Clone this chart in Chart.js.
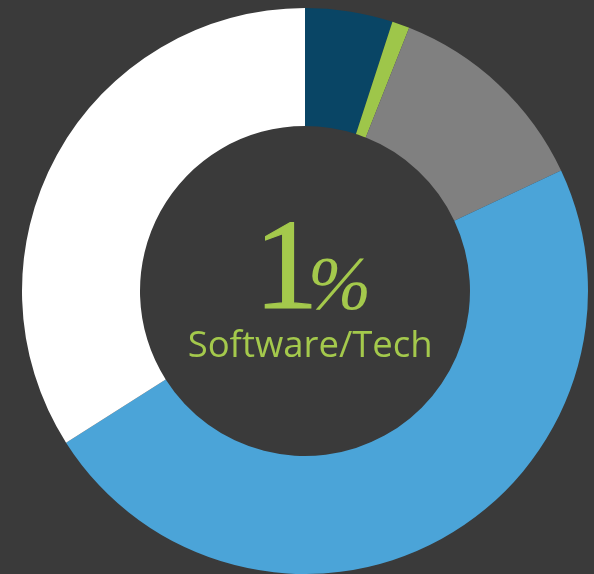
<!DOCTYPE html>
<html>
<head>
<meta charset="utf-8">
<script src="https://cdn.jsdelivr.net/npm/chart.js@4"></script>
<style>
  html, body { margin: 0; padding: 0; background: #3a3a3a; }
  #wrap { width: 594px; height: 574px; position: relative; }
</style>
</head>
<body>
<div id="wrap"><canvas id="c" width="594" height="574"></canvas></div>
<script>
const categories = ['Category A', 'Software/Tech', 'Category C', 'Category D', 'Category E'];
const values = [5, 1, 12, 48, 34];
const colors = ['#094565', '#9ec64a', '#808080', '#4ba4d8', '#ffffff'];
const centerValue = '1';
const centerSymbol = '%';
const centerLabel = 'Software/Tech';
const textColor = '#a4c94c';

const centerText = {
  id: 'centerText',
  afterDraw(chart) {
    const ctx = chart.ctx;
    const arc = chart.getDatasetMeta(0).data[0];
    const cx = arc.x, cy = arc.y;
    ctx.save();
    ctx.fillStyle = textColor;
    ctx.textAlign = 'left';
    ctx.textBaseline = 'alphabetic';

    const serif = '"Liberation Serif", "DejaVu Serif", serif';
    let fs = 120;
    ctx.font = fs + 'px ' + serif;
    let m = ctx.measureText(centerValue);
    fs = fs * 86 / (m.actualBoundingBoxAscent + m.actualBoundingBoxDescent);
    ctx.font = fs + 'px ' + serif;
    m = ctx.measureText(centerValue);
    const baseline = cy + 17;
    ctx.fillText(centerValue, cx + 6 - m.actualBoundingBoxRight, baseline);
    ctx.strokeStyle = textColor;
    ctx.lineWidth = 1.2;
    ctx.strokeText(centerValue, cx + 6 - m.actualBoundingBoxRight, baseline);

    let ps = 70;
    ctx.font = 'italic ' + ps + 'px ' + serif;
    m = ctx.measureText(centerSymbol);
    ps = ps * 52 / (m.actualBoundingBoxAscent + m.actualBoundingBoxDescent);
    ctx.font = 'italic ' + ps + 'px ' + serif;
    m = ctx.measureText(centerSymbol);
    ctx.fillText(centerSymbol, cx + 7 + m.actualBoundingBoxLeft, baseline + 2 - m.actualBoundingBoxDescent);

    let ls = 30;
    ctx.font = '400 ' + ls + 'px "Open Sans"';
    m = ctx.measureText(centerLabel);
    ls = ls * 241 / (m.actualBoundingBoxLeft + m.actualBoundingBoxRight);
    ctx.font = '400 ' + ls + 'px "Open Sans"';
    m = ctx.measureText(centerLabel);
    const w = m.actualBoundingBoxLeft + m.actualBoundingBoxRight;
    ctx.fillText(centerLabel, cx + 4.5 - w / 2 + m.actualBoundingBoxLeft, cy + 66);
    ctx.restore();
  }
};

new Chart(document.getElementById('c'), {
  type: 'doughnut',
  data: {
    labels: categories,
    datasets: [{
      data: values,
      backgroundColor: colors,
      borderWidth: 0,
      hoverOffset: 0
    }]
  },
  options: {
    responsive: false,
    animation: false,
    radius: 283,
    cutout: 165,
    layout: { padding: { left: 16, top: 8, right: 0, bottom: 0 } },
    plugins: {
      legend: { display: false },
      tooltip: { enabled: false }
    }
  },
  plugins: [centerText]
});
</script>
</body>
</html>
